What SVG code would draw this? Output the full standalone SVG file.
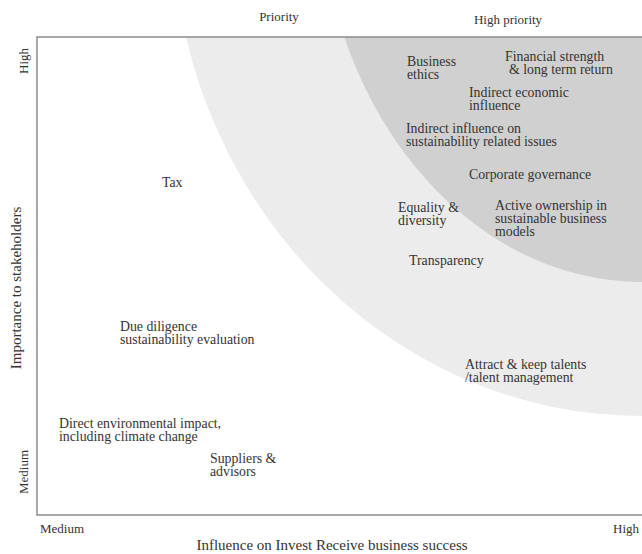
<svg xmlns="http://www.w3.org/2000/svg" width="642" height="554" viewBox="0 0 642 554">
  <style>
    text { font-family: "Liberation Serif", "Times New Roman", serif; fill: #333333; }
    .lbl { font-size: 13.8px; }
    .tick { font-size: 13px; }
    .axis { font-size: 15px; }
    .frame { stroke: #8c8c8c; stroke-width: 1.5; fill: none; }
  </style>
  <defs>
    <clipPath id="plot">
      <rect x="37" y="37" width="605" height="478"/>
    </clipPath>
  </defs>
  <rect x="0" y="0" width="642" height="554" fill="#ffffff"/>
  <g id="zones" clip-path="url(#plot)">
    <ellipse id="priority-zone" cx="642" cy="-84" rx="470" ry="500" fill="#ececec"/>
    <ellipse id="high-priority-zone" cx="642" cy="-118" rx="323" ry="400" fill="#d0d0d0"/>
  </g>
  <g id="axes">
    <path class="frame" d="M642 37 H37 V515 H642"/>
  </g>
  <g id="axis-labels">
    <text class="tick" x="279" y="21" text-anchor="middle">Priority</text>
    <text class="tick" x="508" y="24" text-anchor="middle">High priority</text>
    <text class="tick" transform="translate(28 61) rotate(-90)" text-anchor="middle">High</text>
    <text class="tick" transform="translate(28 472) rotate(-90)" text-anchor="middle">Medium</text>
    <text class="axis" transform="translate(21 288) rotate(-90)" text-anchor="middle">Importance to stakeholders</text>
    <text class="tick" x="40" y="533">Medium</text>
    <text class="tick" x="639" y="533" text-anchor="end">High</text>
    <text class="axis" x="332" y="550" text-anchor="middle">Influence on Invest Receive business success</text>
  </g>
  <g id="connectors"></g>
  <g id="business-ethics"><text class="lbl" x="407" y="66">Business</text><text class="lbl" x="407" y="79">ethics</text></g>
  <g id="financial-strength"><text class="lbl" x="505" y="61">Financial strength</text><text class="lbl" x="509" y="74">&amp; long term return</text></g>
  <g id="indirect-economic"><text class="lbl" x="469" y="97">Indirect economic</text><text class="lbl" x="469" y="110">influence</text></g>
  <g id="indirect-influence"><text class="lbl" x="406" y="133">Indirect influence on</text><text class="lbl" x="406" y="146">sustainability related issues</text></g>
  <g id="corporate-governance"><text class="lbl" x="469" y="179">Corporate governance</text></g>
  <g id="equality-diversity"><text class="lbl" x="398" y="212">Equality &amp;</text><text class="lbl" x="398" y="225">diversity</text></g>
  <g id="active-ownership"><text class="lbl" x="495" y="210">Active ownership in</text><text class="lbl" x="495" y="223">sustainable business</text><text class="lbl" x="495" y="236">models</text></g>
  <g id="transparency"><text class="lbl" x="409" y="265">Transparency</text></g>
  <g id="tax"><text class="lbl" x="162" y="187">Tax</text></g>
  <g id="due-diligence"><text class="lbl" x="120" y="331">Due diligence</text><text class="lbl" x="120" y="344">sustainability evaluation</text></g>
  <g id="attract-talents"><text class="lbl" x="465" y="369">Attract &amp; keep talents</text><text class="lbl" x="465" y="382">/talent management</text></g>
  <g id="direct-environmental"><text class="lbl" x="59" y="428">Direct environmental impact,</text><text class="lbl" x="59" y="441">including climate change</text></g>
  <g id="suppliers-advisors"><text class="lbl" x="210" y="463">Suppliers &amp;</text><text class="lbl" x="210" y="476">advisors</text></g>
</svg>
